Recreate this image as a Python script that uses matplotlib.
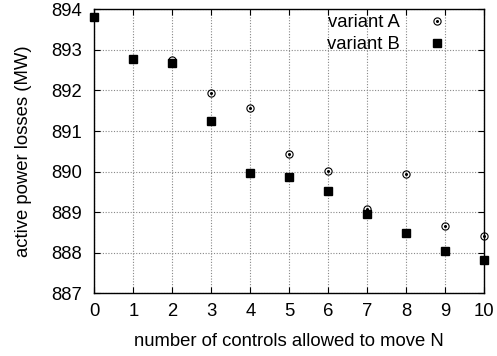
import matplotlib
matplotlib.use("Agg")
import matplotlib.pyplot as plt
from matplotlib.legend_handler import HandlerTuple

plt.rcParams['font.family'] = ['Liberation Sans', 'DejaVu Sans']

N = [0, 1, 2, 3, 4, 5, 6, 7, 8, 9, 10]
variant_a = [893.82, 892.77, 892.74, 891.93, 891.57, 890.44, 890.01, 889.07, 889.94, 888.66, 888.42]
variant_b = [893.82, 892.77, 892.67, 891.24, 889.97, 889.87, 889.51, 888.96, 888.48, 888.05, 887.81]
xticks = list(range(0, 11))
yticks = [887, 888, 889, 890, 891, 892, 893, 894]

fig = plt.figure(figsize=(4.97, 3.56), dpi=100)
ax = fig.add_axes([0.19, 0.176, 0.784, 0.798])

a1, = ax.plot(N, variant_a, linestyle='none', marker='o', markersize=5.2,
              markerfacecolor='none', markeredgecolor='black', markeredgewidth=0.8,
              zorder=3, clip_on=False)
a2, = ax.plot(N, variant_a, linestyle='none', marker='o', markersize=1.2,
              color='black', zorder=3, clip_on=False)
b1, = ax.plot(N, variant_b, linestyle='none', marker='s', markersize=5.2,
              color='black', zorder=4, clip_on=False)

ax.set_xlim(0, 10)
ax.set_ylim(887, 894)
ax.set_xticks(xticks)
ax.set_yticks(yticks)
ax.tick_params(direction='in', top=True, right=True, labelsize=13.3, length=4)
ax.tick_params(axis='x', pad=7)
ax.tick_params(axis='y', pad=9)
ax.grid(True, color='#888888', linestyle=(0, (1, 1.5)), linewidth=0.8)
for s in ax.spines.values():
    s.set_linewidth(1.0)

ax.set_xlabel('number of controls allowed to move N', fontsize=13.3, labelpad=9)
ax.set_ylabel('active power losses (MW)', fontsize=13.3, labelpad=14)

leg = ax.legend([(a1, a2), b1], ['variant A', 'variant B'],
                handler_map={tuple: HandlerTuple(ndivide=1, pad=0)},
                loc='upper right', bbox_to_anchor=(0.9025, 0.982),
                frameon=False, markerfirst=False,
                fontsize=13.3, handlelength=1.0, handletextpad=1.5,
                borderpad=0, borderaxespad=0, labelspacing=0.25)

fig.savefig('out.png', dpi=100)
